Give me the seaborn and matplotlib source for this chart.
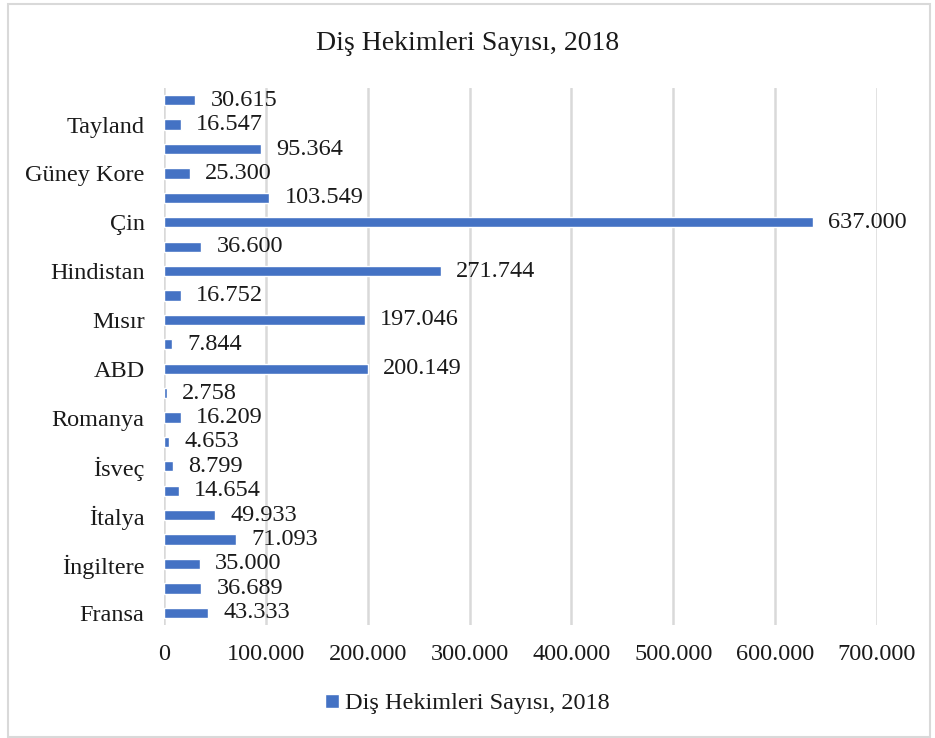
import matplotlib
matplotlib.use("Agg")
import matplotlib.pyplot as plt
import seaborn as sns
import pandas as pd
from matplotlib.ticker import FuncFormatter, MultipleLocator
from matplotlib.patches import Rectangle

# Data (top to bottom as in the chart); unlabeled rows shown with empty tick labels
tick_labels = ["", "Tayland", "", "Güney Kore", "", "Çin", "", "Hindistan", "",
               "Mısır", "", "ABD", "", "Romanya", "", "İsveç", "", "İtalya", "",
               "İngiltere", "", "Fransa"]
values = [30615, 16547, 95364, 25300, 103549, 637000, 36600, 271744, 16752,
          197046, 7844, 200149, 2758, 16209, 4653, 8799, 14654, 49933, 71093,
          35000, 36689, 43333]
series_name = "Diş Hekimleri Sayısı, 2018"
title = "Diş Hekimleri Sayısı, 2018"

df = pd.DataFrame({"pos": list(range(len(values))), "deger": values})

sns.set_theme(style="white")
plt.rcParams["font.family"] = ["Liberation Serif", "DejaVu Serif"]

fig = plt.figure(figsize=(9.35, 7.38), dpi=100)
ax = fig.add_axes([164/935, 1-625/738, (877-164)/935, (625-88)/738])

color = "#4472C4"
sns.barplot(data=df, x="deger", y="pos", orient="h", color=color, width=0.42,
            saturation=1, ax=ax, label=series_name)

ax.set_xlim(0, 700000)
ax.set_ylim(len(values)-0.5, -0.5)
ax.xaxis.set_major_locator(MultipleLocator(100000))
fmt = lambda v: f"{v:,.0f}".replace(",", ".")
ax.xaxis.set_major_formatter(FuncFormatter(lambda v, p: fmt(v)))
ax.set_yticks(range(len(values)))
ax.set_yticklabels(tick_labels)
ax.tick_params(axis="y", length=0, pad=14, labelsize=17.5, labelcolor="#1a1a1a")
ax.tick_params(axis="x", length=0, pad=14, labelsize=17.5, labelcolor="#1a1a1a")
ax.set_xlabel("")
ax.set_ylabel("")
for s in ax.spines.values():
    s.set_visible(False)
ax.grid(axis="x", color="#d9d9d9", linewidth=1.8)
ax.set_axisbelow(True)

for c in ax.containers:
    ax.bar_label(c, labels=[fmt(v) for v in values], padding=11, fontsize=17.5,
                 color="#1a1a1a")

fig.text(0.5, 1-44/738, title, ha="center", va="center", fontsize=20, color="#1a1a1a")

leg = ax.legend(loc="center", bbox_to_anchor=(0.5, 1-704/738), bbox_transform=fig.transFigure,
                frameon=False, fontsize=17.5, handlelength=0.55, handleheight=0.55,
                handletextpad=0.25)
for t in leg.get_texts():
    t.set_color("#1a1a1a")

fig.patches.append(Rectangle((8/935, 1/738), (930-8)/935, (734-1)/738,
                             transform=fig.transFigure,
                             fill=False, edgecolor="#d9d9d9", linewidth=1.5))

fig.savefig("out.png", dpi=100, facecolor="white")
